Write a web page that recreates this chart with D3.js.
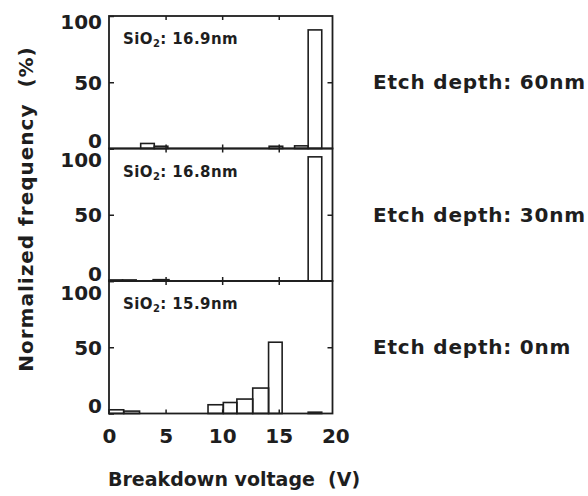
<!DOCTYPE html>
<html>
<head>
<meta charset="utf-8">
<script src="https://cdn.jsdelivr.net/npm/d3@7"></script>
<style>
	body { margin: 0; background: #fff; }
	text { font-family: "DejaVu Sans", sans-serif; font-weight: bold; fill: #1e1e1e; }
</style>
</head>
<body>
<div id="hist_graph"></div>
<script>
// panel labels
var etchLabels = [ "Etch depth: 60nm", "Etch depth: 30nm", "Etch depth: 0nm" ];
var oxideLabels = [ "16.9nm", "16.8nm", "15.9nm" ];

// histogram bins (V) and normalized frequency (%) per panel
var binStart60 = [ 2.8, 4.0, 14.15, 16.4, 17.6 ];
var binEnd60 = [ 4.0, 5.2, 15.35, 17.6, 18.8 ];
var freq60 = [ 3.8, 1.7, 1.7, 2.0, 89.5 ];

var binStart30 = [ 0, 1.2, 3.9, 17.6 ];
var binEnd30 = [ 1.2, 2.4, 5.3, 18.8 ];
var freq30 = [ 0.8, 0.8, 1.0, 93.7 ];

var binStart0 = [ 0, 1.3, 8.75, 10.1, 11.3, 12.7, 14.1, 17.6 ];
var binEnd0 = [ 1.3, 2.7, 10.1, 11.3, 12.7, 14.1, 15.3, 18.8 ];
var freq0 = [ 2.8, 1.8, 6.6, 8.3, 10.9, 19.2, 53.8, 1.0 ];

var xTicks = [ 0, 5, 10, 15, 20 ];
var yTicks = [ 0, 50, 100 ];

var panels = [
	{ start: binStart60, end: binEnd60, freq: freq60 },
	{ start: binStart30, end: binEnd30, freq: freq30 },
	{ start: binStart0, end: binEnd0, freq: freq0 }
];

// set the dimensions and margins of the graph
var margin = {
		top: 16,
		left: 109
	},
	width = 223.5,
	panelHeight = 132.5;

var ink = "#1e1e1e";

var x = d3.scaleLinear()
	.domain( [ 0, 19.75 ] )
	.range( [ 0, width ] );

var y = d3.scaleLinear()
	.domain( [ 0, 100 ] )
	.range( [ panelHeight, 0 ] );

var svg = d3.select( "#hist_graph" )
	.append( "svg" )
	.attr( "width", 588 )
	.attr( "height", 496 );

panels.forEach( function( p, i ) {
	var g = svg.append( "g" )
		.attr( "transform", "translate(" + margin.left + "," + ( margin.top + i * panelHeight ) + ")" );

	var bins = p.freq.map( function( f, k ) {
		return { x0: p.start[ k ], x1: p.end[ k ], f: f };
	} );

	// bars, outline only
	g.selectAll( ".bar" )
		.data( bins )
		.enter()
		.append( "rect" )
		.attr( "class", "bar" )
		.attr( "x", function( d ) { return x( d.x0 ); } )
		.attr( "y", function( d ) { return y( d.f ); } )
		.attr( "width", function( d ) { return x( d.x1 ) - x( d.x0 ); } )
		.attr( "height", function( d ) { return panelHeight - y( d.f ); } )
		.style( "fill", "none" )
		.style( "stroke", ink )
		.style( "stroke-width", 1.6 );

	// inner ticks on top and bottom
	var topAxis = d3.axisTop( x ).tickValues( [ 5, 10, 15 ] ).tickSize( -4 ).tickFormat( "" );
	g.append( "g" ).call( topAxis );

	var bottomAxis = d3.axisBottom( x ).tickValues( xTicks ).tickSize( -4 ).tickPadding( 15 );
	if( i < 2 ) bottomAxis.tickFormat( "" );
	var gb = g.append( "g" )
		.attr( "transform", "translate(0," + panelHeight + ")" )
		.call( bottomAxis );
	gb.selectAll( ".tick line" )
		.filter( function( d ) { return d == 0 || d == 20; } )
		.remove();

	// left axis with labels, right axis ticks only
	var gl = g.append( "g" )
		.call( d3.axisLeft( y ).tickValues( yTicks ).tickSize( -5 ).tickPadding( 7 ) );
	gl.selectAll( ".tick text" )
		.attr( "dy", function( d ) {
			if( d == 100 ) return i == 0 ? "0.62em" : "0.9em";
			if( d == 0 ) return "-0.05em";
			return "0.36em";
		} );

	var gr = g.append( "g" )
		.attr( "transform", "translate(" + width + ",0)" )
		.call( d3.axisRight( y ).tickValues( [ 50 ] ).tickSize( -5 ).tickFormat( "" ) );

	g.selectAll( ".domain" ).remove();
	g.selectAll( ".tick line" ).style( "stroke", ink ).style( "stroke-width", 1.5 );
	g.selectAll( ".tick text" )
		.style( "font-family", "DejaVu Sans" )
		.style( "font-weight", "bold" )
		.style( "font-size", "20px" )
		.style( "fill", ink );

	// panel frame
	g.append( "rect" )
		.attr( "width", width )
		.attr( "height", panelHeight )
		.style( "fill", "none" )
		.style( "stroke", ink )
		.style( "stroke-width", 1.8 );

	// oxide thickness label
	var t = g.append( "text" )
		.attr( "x", 14 )
		.attr( "y", 28 )
		.style( "font-size", "15px" )
		.style( "letter-spacing", "0.4px" );
	t.append( "tspan" ).text( "SiO" );
	t.append( "tspan" ).attr( "dy", 3 ).style( "font-size", "10px" ).text( "2" );
	t.append( "tspan" ).attr( "dy", -3 ).text( ": " + oxideLabels[ i ] );

	// etch depth label to the right
	svg.append( "text" )
		.attr( "x", 373 )
		.attr( "y", 89 + i * 132.5 )
		.style( "font-size", "20px" )
		.style( "letter-spacing", "0.8px" )
		.text( etchLabels[ i ] );
} );

// axis titles
svg.append( "text" )
	.attr( "x", 108 )
	.attr( "y", 486 )
	.style( "font-size", "19px" )
	.style( "white-space", "pre" )
	.text( "Breakdown voltage  (V)" );

svg.append( "text" )
	.attr( "transform", "translate(33,209) rotate(-90)" )
	.attr( "text-anchor", "middle" )
	.style( "font-size", "20px" )
	.style( "letter-spacing", "1px" )
	.style( "white-space", "pre" )
	.text( "Normalized frequency  (%)" );
</script>
</body>
</html>
